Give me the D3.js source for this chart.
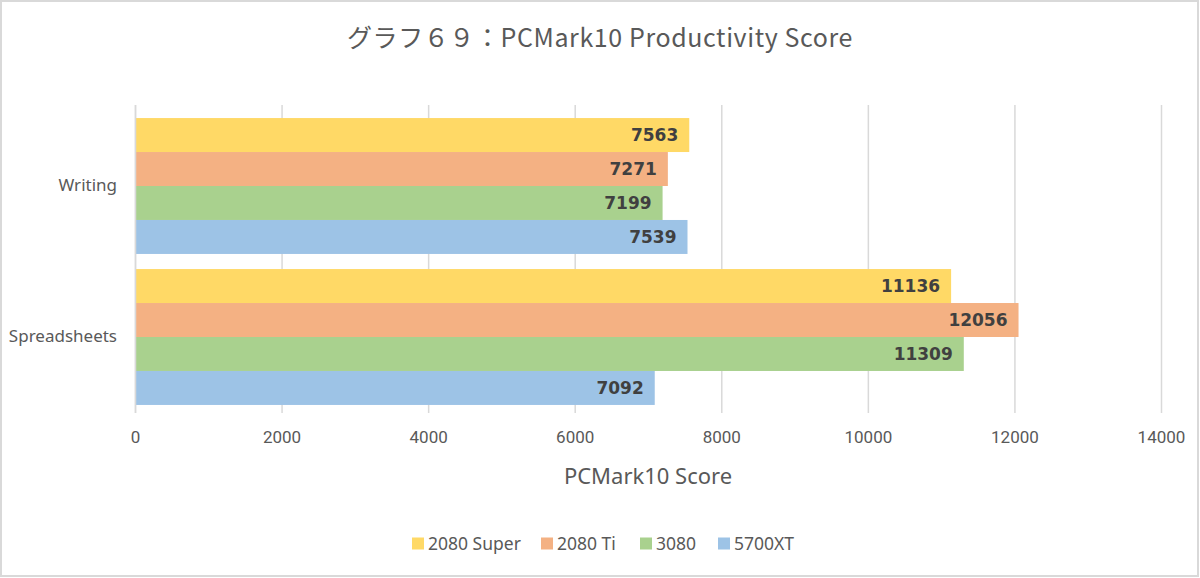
<!DOCTYPE html>
<html><head><meta charset="utf-8">
<script src="https://cdn.jsdelivr.net/npm/d3@7"></script>
<style>body{margin:0;background:#fff}svg{display:block}</style>
</head><body>
<svg id="c" width="1200" height="578"></svg>
<script>
const title = "グラフ６９：PCMark10 Productivity Score";
const categories = ["Writing", "Spreadsheets"];
const seriesNames = ["2080 Super", "2080 Ti", "3080", "5700XT"];
const seriesColors = ["#FFD966", "#F4B183", "#A9D18E", "#9DC3E6"];
const s2080Super = [7563, 11136];
const s2080Ti = [7271, 12056];
const s3080 = [7199, 11309];
const s5700XT = [7539, 7092];
const seriesValues = [s2080Super, s2080Ti, s3080, s5700XT];
const xTicks = [0, 2000, 4000, 6000, 8000, 10000, 12000, 14000];
const xTitle = "PCMark10 Score";

const svg = d3.select("#c");
svg.append("rect").attr("x",1).attr("y",1).attr("width",1197).attr("height",575)
  .attr("fill","#fff").attr("stroke","#d9d9d9").attr("stroke-width",2);

const x = d3.scaleLinear().domain([0,14000]).range([135,1161]);
const y = d3.scaleBand().domain(categories).range([110.5,412.5]).paddingInner(0.1).paddingOuter(0.05);
const ys = d3.scaleBand().domain(seriesNames).range([0,y.bandwidth()]);

// gridlines
svg.append("g").selectAll("line").data(xTicks).join("line")
  .attr("x1",d=>x(d)+0.5).attr("x2",d=>x(d)+0.5).attr("y1",105).attr("y2",413)
  .attr("stroke","#d9d9d9").attr("stroke-width",1.5);

// bars
const rows = [];
categories.forEach((c,i)=>seriesNames.forEach((s,j)=>rows.push({c,s,j,v:seriesValues[j][i]})));
svg.append("g").selectAll("rect").data(rows).join("rect")
  .attr("x",x(0)).attr("y",d=>y(d.c)+ys(d.s)).attr("width",d=>x(d.v)-x(0)).attr("height",ys.bandwidth())
  .attr("fill",d=>seriesColors[d.j]);
svg.append("g").selectAll("text").data(rows).join("text")
  .attr("x",d=>x(d.v)-11).attr("y",d=>y(d.c)+ys(d.s)+ys.bandwidth()/2).attr("dy","0.36em")
  .attr("text-anchor","end").attr("font-family","'DejaVu Sans', Verdana, sans-serif")
  .attr("font-weight","bold").attr("font-size",17).attr("fill","#404040").text(d=>d.v);

// x axis labels
const xa = svg.append("g").attr("transform","translate(0,413)")
  .call(d3.axisBottom(x).tickValues(xTicks).tickSize(0).tickPadding(18).tickFormat(d3.format("d")));
xa.select(".domain").remove();
xa.selectAll("text").attr("font-family","Roboto, sans-serif").attr("font-size",17).attr("fill","#595959");

// y axis labels
const ya = svg.append("g").attr("transform","translate(135,0)")
  .call(d3.axisLeft(y).tickSize(0).tickPadding(18));
ya.select(".domain").attr("stroke","#d9d9d9").attr("stroke-width",1.5).attr("d","M0.5,105V413");
ya.selectAll("text").attr("font-family","'Noto Sans', sans-serif").attr("font-size",17).attr("fill","#595959");

// title
svg.append("text").attr("x",600).attr("y",47).attr("text-anchor","middle")
  .attr("font-family","'Noto Sans CJK JP', sans-serif").attr("font-size",25).attr("letter-spacing",0.6)
  .attr("fill","#595959").text(title);
// axis title
svg.append("text").attr("x",648).attr("y",484).attr("text-anchor","middle")
  .attr("font-family","'Noto Sans', sans-serif").attr("font-size",22).attr("fill","#595959").text(xTitle);

// legend
const legX = [412, 541, 640, 718];
const lg = svg.append("g").selectAll("g").data(seriesNames).join("g")
  .attr("transform",(d,i)=>`translate(${legX[i]},538)`);
lg.append("rect").attr("y",-0.5).attr("width",12).attr("height",12).attr("fill",(d,i)=>seriesColors[i]);
lg.append("text").attr("x",16).attr("y",5.5).attr("dy","0.36em")
  .attr("font-family","'Noto Sans', sans-serif").attr("font-size",17.5).attr("fill","#595959").text(d=>d);
</script>
</body></html>
